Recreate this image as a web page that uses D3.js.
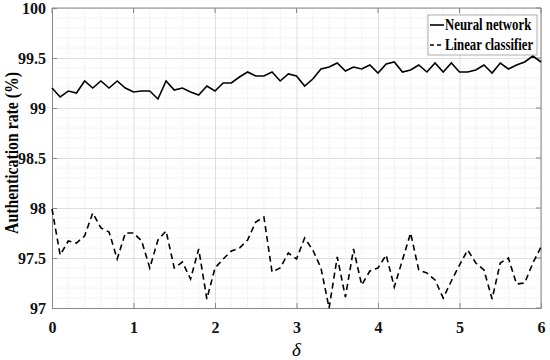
<!DOCTYPE html>
<html>
<head>
<meta charset="utf-8">
<script src="https://cdn.jsdelivr.net/npm/d3@7"></script>
<style>
  body { margin: 0; background: #fff; }
  svg { display: block; }
  text { font-family: "Liberation Serif", "Times New Roman", serif; }
</style>
</head>
<body>
<svg width="550" height="360"></svg>
<script>
// delta values, 0 to 6 step 0.1
const deltas = d3.range(61).map(i => +(i / 10).toFixed(1));

const neural = [
  99.20, 99.11, 99.17, 99.15, 99.27, 99.20, 99.27, 99.20, 99.27, 99.20,
  99.16, 99.17, 99.17, 99.09, 99.27, 99.18, 99.20, 99.16, 99.13, 99.22,
  99.17, 99.25, 99.25, 99.31, 99.36, 99.32, 99.32, 99.36, 99.27, 99.34,
  99.32, 99.22, 99.29, 99.39, 99.41, 99.45, 99.37, 99.41, 99.39, 99.43,
  99.35, 99.44, 99.46, 99.36, 99.38, 99.43, 99.36, 99.45, 99.36, 99.45,
  99.36, 99.36, 99.38, 99.43, 99.35, 99.45, 99.39, 99.43, 99.46, 99.52,
  99.46
];

const linear = [
  97.99, 97.53, 97.67, 97.65, 97.72, 97.95, 97.80, 97.76, 97.49, 97.75,
  97.75, 97.67, 97.40, 97.68, 97.77, 97.40, 97.46, 97.29, 97.59, 97.09,
  97.40, 97.49, 97.57, 97.60, 97.68, 97.86, 97.91, 97.36, 97.40, 97.55,
  97.49, 97.70, 97.58, 97.40, 97.00, 97.51, 97.11, 97.59, 97.23, 97.37,
  97.40, 97.53, 97.21, 97.48, 97.75, 97.38, 97.35, 97.28, 97.10, 97.27,
  97.43, 97.58, 97.45, 97.38, 97.09, 97.45, 97.50, 97.24, 97.25, 97.45,
  97.61
];

const xTicks = [0, 1, 2, 3, 4, 5, 6];
const yTicks = [97, 97.5, 98, 98.5, 99, 99.5, 100];
const seriesNames = ['Neural network', 'Linear classifier'];

const svg = d3.select('svg');
const m = { left: 52, right: 9, top: 8, bottom: 52 };
const width = 550 - m.left - m.right;
const height = 360 - m.top - m.bottom;

const x = d3.scaleLinear().domain([0, 6]).range([0, width]);
const y = d3.scaleLinear().domain([97, 100]).range([height, 0]);

const g = svg.append('g').attr('transform', `translate(${m.left},${m.top})`);

// minor grid
g.append('g')
  .selectAll('line')
  .data(d3.range(0, 6.001, 0.2).filter(v => Math.abs(v - Math.round(v)) > 1e-6))
  .join('line')
  .attr('x1', d => x(d)).attr('x2', d => x(d))
  .attr('y1', 0).attr('y2', height)
  .attr('stroke', '#e8e8e8').attr('stroke-dasharray', '1,1');

g.append('g')
  .selectAll('line')
  .data(d3.range(97, 100.001, 0.1).filter(v => Math.abs(v * 2 - Math.round(v * 2)) > 1e-6))
  .join('line')
  .attr('y1', d => y(d)).attr('y2', d => y(d))
  .attr('x1', 0).attr('x2', width)
  .attr('stroke', '#e8e8e8').attr('stroke-dasharray', '1,1');

// major grid
g.append('g')
  .call(d3.axisBottom(x).tickValues(xTicks).tickSize(height).tickFormat(''))
  .call(a => a.select('.domain').remove())
  .selectAll('line').attr('stroke', '#dedede');

g.append('g')
  .call(d3.axisLeft(y).tickValues(yTicks).tickSize(-width).tickFormat(''))
  .call(a => a.select('.domain').remove())
  .selectAll('line').attr('stroke', '#dedede');

// axes
const xAxis = g.append('g')
  .attr('transform', `translate(0,${height})`)
  .call(d3.axisBottom(x).tickValues(xTicks).tickSizeInner(-5).tickSizeOuter(0).tickPadding(14).tickFormat(d3.format('d')));
const yAxis = g.append('g')
  .call(d3.axisLeft(y).tickValues(yTicks).tickSizeInner(-5).tickSizeOuter(0).tickPadding(6).tickFormat(d3.format('')));

[xAxis, yAxis].forEach(a => {
  a.select('.domain').attr('stroke', '#888');
  a.selectAll('.tick line').attr('stroke', '#888');
  a.selectAll('text')
    .attr('fill', '#111')
    .style('font-size', '16px')
    .style('font-weight', 'bold')
    .style('font-family', '"Liberation Serif", serif');
});

// top/right box
g.append('line').attr('x1', 0).attr('x2', width).attr('y1', 0).attr('y2', 0).attr('stroke', '#888');
g.append('line').attr('x1', width).attr('x2', width).attr('y1', 0).attr('y2', height).attr('stroke', '#888');
g.append('g').selectAll('line').data(xTicks).join('line')
  .attr('x1', d => x(d)).attr('x2', d => x(d)).attr('y1', 0).attr('y2', 5).attr('stroke', '#888');
g.append('g').selectAll('line').data(yTicks).join('line')
  .attr('y1', d => y(d)).attr('y2', d => y(d)).attr('x1', width).attr('x2', width - 5).attr('stroke', '#888');

// lines
const line = d3.line().x((d, i) => x(deltas[i])).y(d => y(d));

g.append('path').datum(neural)
  .attr('d', line).attr('fill', 'none')
  .attr('stroke', '#000').attr('stroke-width', 1.6);

g.append('path').datum(linear)
  .attr('d', line).attr('fill', 'none')
  .attr('stroke', '#000').attr('stroke-width', 1.6)
  .attr('stroke-dasharray', '6,4');

// labels (condensed like the original serif face)
svg.append('text')
  .attr('transform', `translate(18,153) rotate(-90) scale(0.83,1)`)
  .attr('text-anchor', 'middle')
  .style('font-size', '19px')
  .style('font-weight', 'bold')
  .text('Authentication rate (%)');

svg.append('text')
  .attr('x', m.left + width / 2)
  .attr('y', 356)
  .attr('text-anchor', 'middle')
  .style('font-size', '19px')
  .style('font-style', 'italic')
  .text('δ');

// legend
const lg = svg.append('g').attr('transform', 'translate(428,15)');
lg.append('rect')
  .attr('width', 109).attr('height', 40)
  .attr('fill', '#fff').attr('stroke', '#999').attr('stroke-width', 0.8);

const items = lg.selectAll('g.item').data(seriesNames).join('g')
  .attr('transform', (d, i) => `translate(0,${10 + i * 20})`);
items.append('line')
  .attr('x1', 2).attr('x2', 16)
  .attr('stroke', '#000').attr('stroke-width', 1.6)
  .attr('stroke-dasharray', (d, i) => i === 1 ? '4,3' : null);
items.append('text')
  .attr('transform', 'translate(17,5) scale(0.8,1)')
  .style('font-size', '16px')
  .style('font-weight', 'bold')
  .text(d => d);
</script>
</body>
</html>
